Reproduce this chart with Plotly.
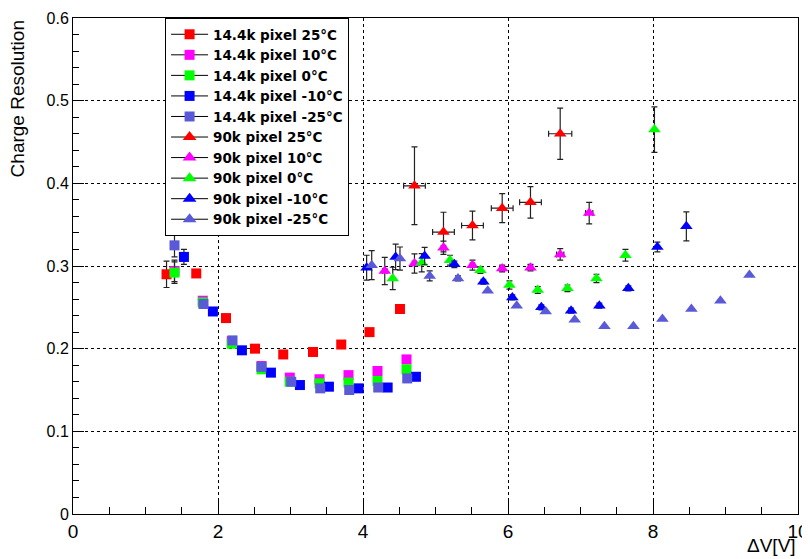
import plotly.graph_objects as go

# ---- data: 14.4k pixel (squares) ----
sq25_x = [1.29, 1.70, 2.11, 2.51, 2.90, 3.31, 3.70, 4.09, 4.51]
sq25_y = [0.290, 0.291, 0.237, 0.200, 0.193, 0.196, 0.205, 0.220, 0.248]
sq25_ey = [0.016, 0, 0, 0, 0, 0, 0, 0, 0]

sq10_x = [1.40, 1.79, 2.19, 2.60, 2.99, 3.40, 3.80, 4.20, 4.60]
sq10_y = [0.294, 0.258, 0.209, 0.179, 0.165, 0.163, 0.168, 0.173, 0.187]
sq10_ey = [0.013, 0, 0, 0, 0, 0, 0, 0, 0]

sq0_x = [1.40, 1.79, 2.19, 2.60, 2.99, 3.40, 3.80, 4.20, 4.60]
sq0_y = [0.292, 0.256, 0.206, 0.175, 0.160, 0.158, 0.159, 0.161, 0.175]
sq0_ey = [0.013, 0, 0, 0, 0, 0, 0, 0, 0]

sqm10_x = [1.53, 1.93, 2.33, 2.73, 3.13, 3.53, 3.94, 4.34, 4.73]
sqm10_y = [0.311, 0.245, 0.198, 0.171, 0.156, 0.154, 0.152, 0.153, 0.166]
sqm10_ey = [0.009, 0, 0, 0, 0, 0, 0, 0, 0]

sqm25_x = [1.40, 1.80, 2.20, 2.60, 3.01, 3.41, 3.81, 4.21, 4.61]
sqm25_y = [0.325, 0.254, 0.210, 0.178, 0.160, 0.152, 0.150, 0.153, 0.164]
sqm25_ey = [0.014, 0, 0, 0, 0, 0, 0, 0, 0]

# ---- data: 90k pixel (triangles) ----
tr25_x = [4.71, 5.11, 5.51, 5.92, 6.31, 6.72]
tr25_y = [0.397, 0.341, 0.349, 0.370, 0.377, 0.460]
tr25_ey = [0.047, 0.024, 0.0175, 0.0175, 0.019, 0.031]
tr25_ex = [0.15, 0.15, 0.15, 0.15, 0.15, 0.16]

tr10_x = [4.30, 4.71, 5.11, 5.51, 5.92, 6.31, 6.72, 7.12]
tr10_y = [0.294, 0.303, 0.322, 0.301, 0.297, 0.298, 0.314, 0.364]
tr10_ey = [0.0165, 0.0117, 0.008, 0.006, 0.004, 0.004, 0.007, 0.013]
tr10_ex = [0.03, 0.03, 0.03, 0.03, 0.03, 0.03, 0.05, 0.05]

tr0_x = [4.41, 4.81, 5.20, 5.62, 6.02, 6.41, 6.82, 7.22, 7.62, 8.02]
tr0_y = [0.285, 0.304, 0.307, 0.295, 0.277, 0.271, 0.273, 0.285, 0.313, 0.465]
tr0_ey = [0.0135, 0.011, 0.006, 0.004, 0.005, 0.004, 0.004, 0.005, 0.007, 0.0275]

trm10_x = [4.05, 4.45, 4.85, 5.26, 5.66, 6.06, 6.46, 6.87, 7.26, 7.66, 8.06, 8.46]
trm10_y = [0.298, 0.311, 0.312, 0.302, 0.281, 0.262, 0.250, 0.246, 0.252, 0.273, 0.323, 0.348]
trm10_ey = [0.015, 0.0155, 0.0105, 0.004, 0.003, 0.003, 0.003, 0.003, 0.003, 0.003, 0.006, 0.0175]

trm25_x = [4.12, 4.51, 4.92, 5.31, 5.72, 6.12, 6.52, 6.92, 7.33, 7.73, 8.13, 8.53, 8.93, 9.33]
trm25_y = [0.301, 0.309, 0.288, 0.285, 0.270, 0.252, 0.245, 0.235, 0.227, 0.227, 0.236, 0.248, 0.258, 0.289]
trm25_ey = [0.0175, 0.014, 0.006, 0.003, 0, 0, 0, 0, 0, 0, 0, 0, 0, 0]

names = ["14.4k pixel 25°C", "14.4k pixel 10°C", "14.4k pixel 0°C", "14.4k pixel -10°C",
         "14.4k pixel -25°C", "90k pixel 25°C", "90k pixel 10°C", "90k pixel 0°C",
         "90k pixel -10°C", "90k pixel -25°C"]

RED, MAG, GRN, BLU, SLA = "#ff0000", "#ff00ff", "#00ff00", "#0000ff", "#5a5ad8"

series = [
    (sq25_x, sq25_y, sq25_ey, None, RED, "square"),
    (sq10_x, sq10_y, sq10_ey, None, MAG, "square"),
    (sq0_x, sq0_y, sq0_ey, None, GRN, "square"),
    (sqm10_x, sqm10_y, sqm10_ey, None, BLU, "square"),
    (sqm25_x, sqm25_y, sqm25_ey, None, SLA, "square"),
    (tr25_x, tr25_y, tr25_ey, tr25_ex, RED, "triangle-up"),
    (tr10_x, tr10_y, tr10_ey, tr10_ex, MAG, "triangle-up"),
    (tr0_x, tr0_y, tr0_ey, None, GRN, "triangle-up"),
    (trm10_x, trm10_y, trm10_ey, None, BLU, "triangle-up"),
    (trm25_x, trm25_y, trm25_ey, None, SLA, "triangle-up"),
]

fig = go.Figure()
for name, (x, y, ey, ex, col, sym) in zip(names, series):
    size = 10 if sym == "square" else 11
    tr = dict(
        x=x, y=y, mode="markers", showlegend=False,
        marker=dict(symbol=sym, color=col, size=size, line=dict(width=0)),
        error_y=dict(type="data", array=ey, color="#222222", thickness=1.2, width=3),
    )
    if ex is not None:
        tr["error_x"] = dict(type="data", array=ex, color="#222222", thickness=1.2, width=3)
    fig.add_trace(go.Scatter(**tr))

for i, (name, (x, y, ey, ex, col, sym)) in enumerate(zip(names, series)):
    fig.add_trace(go.Scatter(
        x=[None], y=[None], mode="lines+markers", name=name, legendgroup=f"g{i}",
        line=dict(color="black", width=1),
        marker=dict(symbol=sym, color=col, size=10 if sym == "square" else 12),
    ))

# page body adds an ~8px offset; figure is sized so the plot lands where the reference has it
fig.update_layout(
    width=802, height=551,
    margin=dict(l=65, r=12, t=10, b=45),
    paper_bgcolor="white", plot_bgcolor="white",
    font=dict(family="Liberation Sans, Arial, sans-serif", color="black", size=17),
    legend=dict(
        x=0.127, y=1.0, xanchor="left", yanchor="top",
        bordercolor="black", borderwidth=1, bgcolor="white",
        font=dict(family="DejaVu Sans, Liberation Sans, sans-serif", size=13.5, color="black", weight="bold"),
        traceorder="grouped", tracegroupgap=0, itemwidth=37,
    ),
    xaxis=dict(
        range=[0, 10], dtick=2, tick0=0, showgrid=True, gridcolor="black", griddash="dot",
        gridwidth=1, zeroline=False, showline=True, linecolor="black", linewidth=1, mirror=True,
        ticks="inside", ticklen=14, tickcolor="black", automargin=False,
        minor=dict(ticks="inside", ticklen=7, dtick=0.5, tickcolor="black", showgrid=False),
        tickfont=dict(size=19),
    ),
    yaxis=dict(
        range=[0, 0.6], dtick=0.1, tick0=0, showgrid=True, gridcolor="black", griddash="dot",
        gridwidth=1, zeroline=False, showline=True, linecolor="black", linewidth=1, mirror=True,
        ticks="inside", ticklen=11, tickcolor="black", automargin=False,
        minor=dict(ticks="inside", ticklen=6, dtick=0.02, tickcolor="black", showgrid=False),
        tickfont=dict(size=16),
    ),
    annotations=[
        dict(text="Charge Resolution", textangle=-90, xref="paper", yref="paper",
             x=-0.076, y=1.0, xanchor="center", yanchor="top", showarrow=False,
             font=dict(size=19)),
        dict(text="ΔV[V]", xref="paper", yref="paper", x=1.0, y=-0.089,
             xanchor="right", yanchor="bottom", showarrow=False, font=dict(size=19)),
    ],
)

fig.write_html("out.html")
